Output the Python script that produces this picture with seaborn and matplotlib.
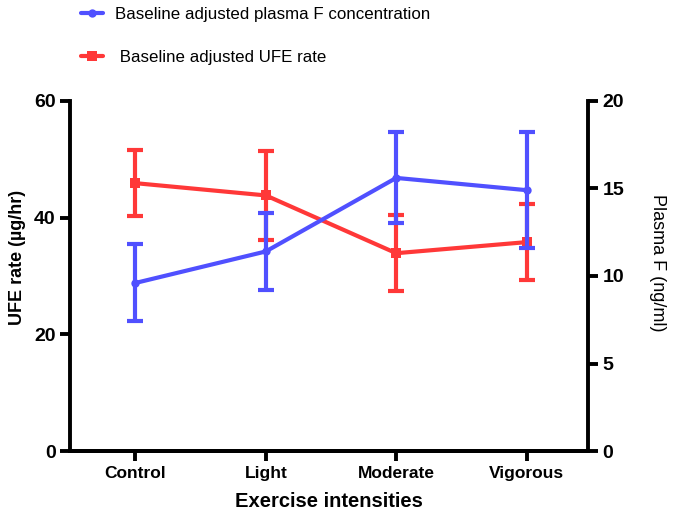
import numpy as np
import pandas as pd
import matplotlib
matplotlib.use("Agg")
import matplotlib.pyplot as plt
import seaborn as sns

# values
intensities = ["Control", "Light", "Moderate", "Vigorous"]
ufe_rate = [45.9, 43.8, 33.9, 35.8]          # ug/hr, left axis
ufe_err = [5.6, 7.6, 6.5, 6.5]
plasma_f = [9.6, 11.4, 15.6, 14.9]           # ng/ml, right axis
plasma_err = [2.2, 2.2, 2.6, 3.3]

blue = "#5050FF"
red = "#FF3838"

sns.set_style("ticks")
plt.rcParams["font.family"] = ["Liberation Sans", "DejaVu Sans"]
plt.rcParams.update({"text.color": "black", "axes.labelcolor": "black",
                     "xtick.color": "black", "ytick.color": "black"})

df = pd.DataFrame({"intensity": intensities, "ufe": ufe_rate, "ufe_err": ufe_err,
                   "plasma": plasma_f, "plasma_err": plasma_err})
df["x"] = np.arange(len(df))

fig = plt.figure(figsize=(6.75, 5.12), dpi=100)
ax = fig.add_axes([0.104, 0.119, 0.767, 0.684])
ax2 = ax.twinx()

# UFE rate (red) on left axis
sns.lineplot(data=df, x="x", y="ufe", ax=ax, color=red, marker="s", markersize=7,
             markeredgewidth=0, linewidth=3, label=" Baseline adjusted UFE rate", legend=False)
ax.errorbar(df["x"], df["ufe"], yerr=df["ufe_err"], fmt="none", ecolor=red,
            elinewidth=3, capsize=6, capthick=3)

# plasma F (blue) on right axis
sns.lineplot(data=df, x="x", y="plasma", ax=ax2, color=blue, marker="o", markersize=6,
             markeredgewidth=0, linewidth=3, label="Baseline adjusted plasma F concentration",
             legend=False)
ax2.errorbar(df["x"], df["plasma"], yerr=df["plasma_err"], fmt="none", ecolor=blue,
             elinewidth=3, capsize=6, capthick=3)

ax.set_xlim(-0.5, 3.47)
ax.set_ylim(0, 60)
ax2.set_ylim(0, 20)
ax.set_yticks([0, 20, 40, 60])
ax2.set_yticks([0, 5, 10, 15, 20])
ax.set_xticks(df["x"])
ax.set_xticklabels(intensities)

for a in (ax, ax2):
    for side in ("left", "right", "bottom"):
        a.spines[side].set_linewidth(2.8)
        a.spines[side].set_color("black")
    a.spines["top"].set_visible(False)
    a.tick_params(width=2.8, length=7, direction="out")
    for lab in a.get_yticklabels():
        lab.set_fontweight("bold")
        lab.set_fontsize(14)
ax.spines["right"].set_visible(False)
ax2.spines["left"].set_visible(False)
for lab in ax.get_xticklabels():
    lab.set_fontweight("bold")
    lab.set_fontsize(12.5)

ax.set_xlabel("Exercise intensities", fontsize=14.5, fontweight="bold", labelpad=8)
ax.set_ylabel("UFE rate (\u00b5g/hr)", fontsize=13, fontweight="bold", labelpad=6)
ax.yaxis.label.set_y(0.554)
ax2.set_ylabel("Plasma F (ng/ml)", fontsize=13, rotation=270, labelpad=30)
ax2.yaxis.label.set_y(0.537)

h1, l1 = ax2.get_legend_handles_labels()
h2, l2 = ax.get_legend_handles_labels()
fig.legend(h1 + h2, l1 + l2, loc="upper left", bbox_to_anchor=(0.098, 1.017),
           frameon=False, fontsize=12.2, labelspacing=1.7, handlelength=1.3,
           handletextpad=0.7)

fig.savefig("out.png", dpi=100)
